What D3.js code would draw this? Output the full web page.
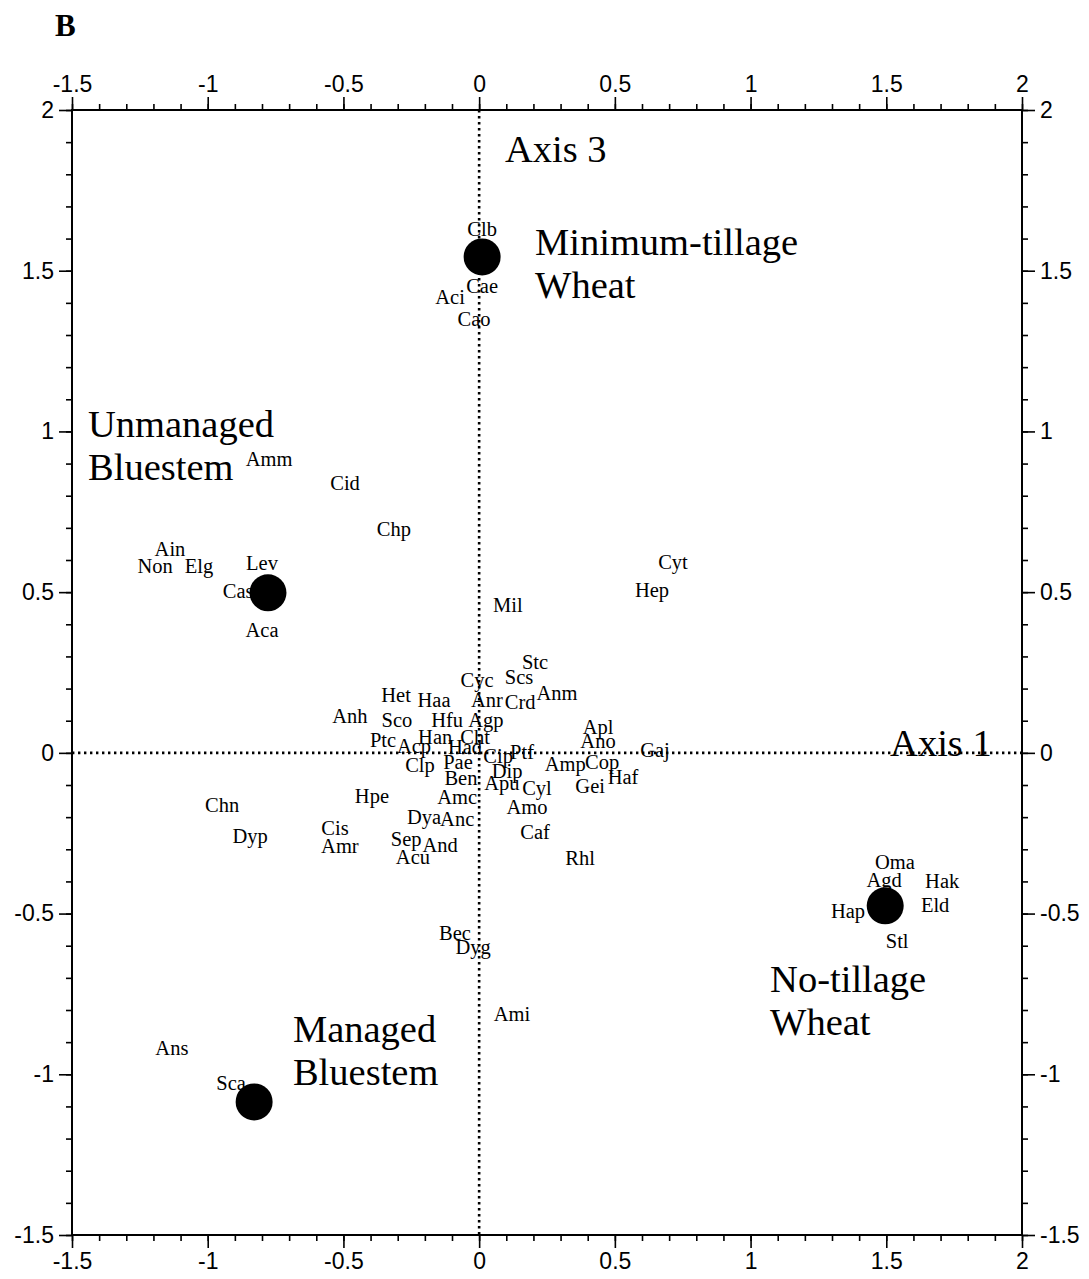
<!DOCTYPE html>
<html>
<head>
<meta charset="utf-8">
<script src="https://cdn.jsdelivr.net/npm/d3@7/dist/d3.min.js"></script>
<style>
  body { margin: 0; background: #fff; }
  .axis text { font-family: "Liberation Sans", Arial, sans-serif; font-size: 23px; fill: #000; }
  .axis line { stroke: #000; stroke-width: 1.6; }
  .axis path { display: none; }
  .sp { font-family: "Liberation Serif", "Times New Roman", serif; font-size: 20.5px; fill: #000; }
  .grp { font-family: "Liberation Serif", "Times New Roman", serif; font-size: 38.5px; fill: #000; }
</style>
</head>
<body>
<svg id="chart" width="1089" height="1279"></svg>
<script>
// species codes and their ordination scores (axis 1, axis 3)
var species = ["Clb","Cae","Aci","Cao","Amm","Cid","Chp","Ain","Non","Elg","Lev","Cas","Aca",
  "Cyt","Hep","Mil","Stc","Scs","Cyc","Anr","Crd","Anm","Het","Haa","Anh","Sco","Hfu","Agp",
  "Ptc","Acp","Han","Cht","Had","Cip","Ptf","Clp","Pae","Dip","Ben","Apu","Cyl","Amc","Amo",
  "Hpe","Dya","Anc","Caf","Cis","Amr","Sep","And","Acu","Rhl","Apl","Ano","Gaj","Amp","Cop",
  "Haf","Gei","Chn","Dyp","Bec","Dyg","Ami","Ans","Sca","Oma","Agd","Hak","Eld","Hap","Stl"];
var axis1 = [0.011,0.011,-0.107,-0.019,-0.774,-0.494,-0.314,-1.139,-1.194,-1.032,-0.800,-0.888,-0.800,
  0.714,0.637,0.106,0.206,0.147,-0.008,0.029,0.151,0.287,-0.306,-0.166,-0.476,-0.303,-0.118,0.025,
  -0.354,-0.240,-0.162,-0.015,-0.052,0.070,0.158,-0.218,-0.078,0.103,-0.067,0.084,0.213,-0.081,0.176,
  -0.395,-0.203,-0.081,0.206,-0.531,-0.513,-0.269,-0.144,-0.244,0.372,0.438,0.438,0.648,0.317,0.453,
  0.530,0.409,-0.947,-0.844,-0.089,-0.022,0.121,-1.132,-0.914,1.532,1.492,1.706,1.680,1.359,1.540];
var axis3 = [1.630,1.453,1.416,1.350,0.915,0.840,0.697,0.632,0.582,0.582,0.591,0.504,0.383,
  0.594,0.507,0.460,0.283,0.236,0.227,0.165,0.159,0.187,0.180,0.165,0.115,0.100,0.103,0.103,
  0.040,0.022,0.050,0.050,0.019,-0.009,0.003,-0.040,-0.028,-0.056,-0.078,-0.093,-0.109,-0.137,-0.168,
  -0.134,-0.199,-0.205,-0.246,-0.236,-0.289,-0.268,-0.286,-0.324,-0.327,0.081,0.037,0.009,-0.034,-0.028,
  -0.075,-0.103,-0.162,-0.258,-0.560,-0.604,-0.812,-0.918,-1.027,-0.339,-0.395,-0.398,-0.473,-0.492,-0.585];

// habitat centroids
var habitats = ["Minimum-tillage Wheat","Unmanaged Bluestem","No-tillage Wheat","Managed Bluestem"];
var habX = [0.011,-0.778,1.496,-0.829];
var habY = [1.543,0.498,-0.476,-1.086];

// annotation text (lines) and anchor in data units
var notes = [["Axis 3"],["Minimum-tillage","Wheat"],["Unmanaged","Bluestem"],["Axis 1"],["No-tillage","Wheat"],["Managed","Bluestem"]];
var noteX = [0.095,0.206,-1.441,1.514,1.072,-0.686];
var noteY = [1.839,1.549,0.983,-0.010,-0.744,-0.899];

var majorTicks = [-1.5,-1,-0.5,0,0.5,1,1.5,2];
var minorTicks = d3.range(-15,21).map(d => d/10);

var svg = d3.select('#chart');
svg.append('rect').attr('width',1089).attr('height',1279).attr('fill','#fff');

var pLeft = 72, pRight = 1022, pTop = 110, pBottom = 1235;

var x = d3.scaleLinear().domain([-1.5,2]).range([pLeft,pRight]);
var y = d3.scaleLinear().domain([-1.5,2]).range([pBottom,pTop]);

var fmt = d => String(d);

var axes = [
  [d3.axisTop, x, 0, pTop],
  [d3.axisBottom, x, 0, pBottom],
  [d3.axisLeft, y, pLeft, 0],
  [d3.axisRight, y, pRight, 0]
];
axes.forEach(a => {
  svg.append('g').attr('class','axis').attr('transform',`translate(${a[2]},${a[3]})`)
    .call(a[0](a[1]).tickValues(minorTicks).tickSize(6).tickFormat(''));
  svg.append('g').attr('class','axis').attr('transform',`translate(${a[2]},${a[3]})`)
    .call(a[0](a[1]).tickValues(majorTicks).tickSize(13).tickPadding(5).tickFormat(fmt));
});

// frame
svg.append('rect').attr('x',pLeft).attr('y',pTop).attr('width',pRight-pLeft).attr('height',pBottom-pTop)
  .attr('fill','none').attr('stroke','#000').attr('stroke-width',2);

// dotted zero lines
svg.append('line').attr('x1',x(0)).attr('x2',x(0)).attr('y1',pTop).attr('y2',pBottom)
  .attr('stroke','#000').attr('stroke-width',2.6).attr('stroke-dasharray','2.4 3.6');
svg.append('line').attr('x1',pLeft).attr('x2',pRight).attr('y1',y(0)).attr('y2',y(0))
  .attr('stroke','#000').attr('stroke-width',2.6).attr('stroke-dasharray','2.4 3.6');

// habitat dots
svg.selectAll('circle.hab').data(habitats).enter().append('circle')
  .attr('class','hab')
  .attr('cx',(d,i) => x(habX[i])).attr('cy',(d,i) => y(habY[i])).attr('r',18.5)
  .attr('fill','#000');

// species labels
svg.selectAll('text.sp').data(species).enter().append('text')
  .attr('class','sp')
  .attr('x',(d,i) => x(axis1[i])).attr('y',(d,i) => y(axis3[i]))
  .attr('dy','0.33em').attr('text-anchor','middle')
  .text(d => d);

// annotations
notes.forEach((lines,i) => {
  var t = svg.append('text').attr('class','grp').attr('x',x(noteX[i])).attr('y',y(noteY[i]));
  lines.forEach((l,j) => t.append('tspan').attr('x',x(noteX[i])).attr('dy', j ? 43 : 0).text(l));
});

// panel letter
svg.append('text').attr('x',55).attr('y',36)
  .style('font-family','"Liberation Serif", "Times New Roman", serif')
  .style('font-size','31px').style('font-weight','bold').text('B');
</script>
</body>
</html>
